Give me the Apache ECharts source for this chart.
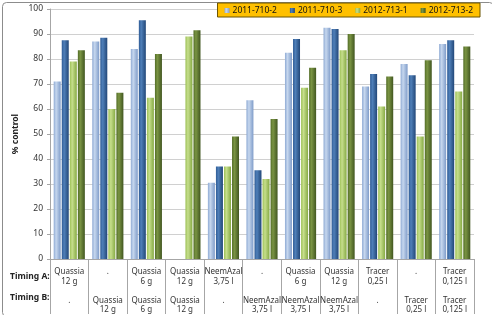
<!DOCTYPE html>
<html>
<head>
<meta charset="utf-8">
<script src="https://cdn.jsdelivr.net/npm/echarts@6/dist/echarts.min.js"></script>
<style>
html,body{margin:0;padding:0;background:#fff;}
#chart{width:492px;height:315px;}
</style>
</head>
<body>
<div id="chart"></div>
<script>
var chart = echarts.init(document.getElementById('chart'));

// timing A / timing B per group (lines)
var timingA = [['Quassia','12 g'],['.',''],['Quassia','6 g'],['Quassia','12 g'],['NeemAzal','3,75 l'],['.',''],
	['Quassia','6 g'],['Quassia','12 g'],['Tracer','0,25 l'],['.',''],['Tracer','0,125 l']];
var timingB = [['.',''],['Quassia','12 g'],['Quassia','6 g'],['Quassia','12 g'],['.',''],['NeemAzal','3,75 l'],
	['NeemAzal','3,75 l'],['NeemAzal','3,75 l'],['.',''],['Tracer','0,25 l'],['Tracer','0,125 l']];
var seriesNames = ['2011-710-2','2011-710-3','2012-713-1','2012-713-2'];
var s1 = [71, 87, 84, null, 30.5, 63.5, 82.5, 92.5, 69, 78, 86];
var s2 = [87.5, 88.5, 95.5, null, 37, 35.5, 88, 92, 74, 73.5, 87.5];
var s3 = [79, 60, 64.5, 89, 37, 32, 68.5, 83.5, 61, 49, 67];
var s4 = [83.5, 66.5, 82, 91.5, 49, 56, 76.5, 90, 73, 79.5, 85];
var yTicks = [0, 10, 20, 30, 40, 50, 60, 70, 80, 90, 100];

var categories = timingA.map(function(a, i){ return 'g' + i; });
var values = [s1, s2, s3, s4];
var colors = [
	['#c6d7ee', '#8eaad4', '#7f9cc9'],
	['#4f7fb8', '#2f5c96', '#224778'],
	['#c6de8c', '#9cc055', '#86aa44'],
	['#7a9443', '#536d27', '#415620']
];

function grad(c){
	return new echarts.graphic.LinearGradient(0, 0, 1, 0, [
		{offset: 0, color: c[1]},
		{offset: 0.35, color: c[0]},
		{offset: 1, color: c[2]}
	]);
}

var option = {
	animation: false,
	color: colors.map(function(c){ return c[1]; }),
	textStyle: {fontFamily: 'Noto Sans'},
	legend: {
		right: 12,
		top: 3,
		data: seriesNames,
		backgroundColor: '#ffc000',
		borderColor: '#6b5400',
		borderWidth: 1,
		padding: [3, 7, 2, 7],
		itemWidth: 5,
		itemHeight: 5,
		itemGap: 13,
		icon: 'rect',
		textStyle: {fontSize: 8.5, color: '#111', padding: [0, 0, 0, -2]}
	},
	grid: {left: 50, right: 18, top: 9, bottom: 56},
	xAxis: {
		type: 'category',
		data: categories,
		axisLine: {lineStyle: {color: '#a6a6a6'}},
		axisTick: {show: true, length: 55, interval: 0, lineStyle: {color: '#a6a6a6'}},
		axisLabel: {
			interval: 0,
			margin: 8,
			fontSize: 8,
			color: '#333',
			lineHeight: 9.5,
			formatter: function(v, i){
				var a = timingA[i], b = timingB[i];
				return a[0] + '\n' + (a[1] || ' ') + '\n \n' + b[0] + '\n' + (b[1] || ' ');
			}
		}
	},
	yAxis: {
		type: 'value',
		min: 0,
		max: 100,
		interval: 10,
		name: '% control',
		nameLocation: 'middle',
		nameGap: 30,
		nameMoveOverlap: false,
		nameTextStyle: {fontSize: 8.5, fontWeight: 'bold', color: '#222'},
		axisLine: {show: true, lineStyle: {color: '#a6a6a6'}},
		axisTick: {show: true, length: 3, lineStyle: {color: '#a6a6a6'}},
		axisLabel: {
			fontSize: 8.5,
			color: '#333',
			margin: 7,
			formatter: function(v){ return yTicks.indexOf(v) >= 0 ? String(v) : ''; }
		},
		splitLine: {lineStyle: {color: '#d0d0d0'}}
	},
	graphic: [
		{type: 'rect', left: 0, top: 0, shape: {width: 491, height: 314, r: 4}, style: {fill: 'none', stroke: '#8c8c8c', lineWidth: 1}, silent: true},
		{type: 'text', left: 10, top: 272, style: {text: 'Timing A:', font: 'bold 8.5px "Noto Sans"', fill: '#222'}},
		{type: 'text', left: 10, top: 293, style: {text: 'Timing B:', font: 'bold 8.5px "Noto Sans"', fill: '#222'}}
	],
	series: seriesNames.map(function(n, k){
		return {
			name: n,
			type: 'bar',
			data: values[k],
			barWidth: 7,
			barGap: '15%',
			itemStyle: {color: grad(colors[k])}
		};
	})
};
chart.setOption(option);
</script>
</body>
</html>
